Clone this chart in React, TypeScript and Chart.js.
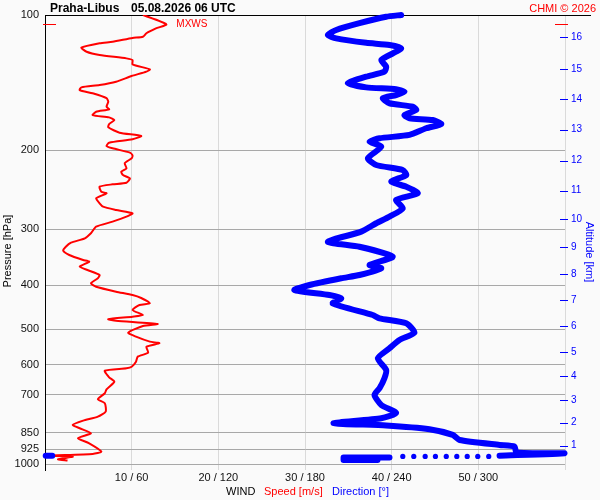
import React, { useEffect, useRef } from 'react';
import { Chart, registerables } from 'chart.js';

Chart.register(...registerables);

const FONT = 'Arial, "Liberation Sans", Helvetica, sans-serif';
const RED = '#ff0000';
const BLUE = '#0000ff';

// wind speed trace: pressure [hPa] from the top down to the surface
const speedPressure = [
  100, 104.9, 107.1, 109.8, 111.8, 112.5, 114.7, 115.6, 118.2, 120.7,
  122.7, 124.9, 126.0, 128.8, 132.1, 133.7, 136.7, 140.8, 143.2, 144.9,
  146.9, 149.4, 153.2, 156.0, 160.0, 162.2, 164.2, 167.0, 169.0, 171.3,
  174.9, 177.8, 182.8, 185.9, 189.1, 192.4, 195.7, 198.0, 202.5, 205.4,
  208.4, 213.8, 219.4, 223.3, 227.1, 231.0, 236.2, 238.2, 241.1, 247.4,
  249.4, 255.9, 262.5, 267.1, 271.6, 276.3, 281.1, 288.4, 295.9, 306.1,
  314.1, 321.2, 328.0, 334.7, 342.2, 351.1, 354.1, 363.3, 369.5, 379.1,
  385.5, 395.5, 402.5, 412.9, 420.1, 426.6, 438.3, 442.1, 453.6, 465.4,
  469.4, 475.7, 479.1, 487.3, 492.3, 509.5, 520.0, 533.5, 537.9, 547.4,
  564.5, 576.2, 591.1, 606.6, 611.5, 619.2, 640.4, 655.0, 681.0, 695.0,
  716.7, 731.6, 763.8, 783.6, 799.9, 817.6, 831.6, 853.1, 875.3, 898.1,
  937.6, 948.7, 957.0, 961.9, 974.8, 980.8,
];
// wind speed [m/s]
const speedValues = [
  11.3, 14.0, 12.8, 11.7, 11.3, 10.1, 7.8, 6.3, 4.2, 4.8,
  6.3, 9.4, 10.1, 10.1, 12.1, 11.7, 10.0, 8.2, 6.3, 4.2,
  4.0, 5.5, 7.1, 7.3, 7.1, 7.4, 5.9, 5.5, 7.4, 8.0,
  7.4, 7.3, 8.6, 11.1, 10.1, 7.4, 7.1, 7.8, 9.8, 10.1,
  10.0, 9.2, 9.4, 8.8, 9.0, 9.8, 9.4, 7.8, 6.3, 6.5,
  7.1, 5.9, 6.3, 6.7, 8.2, 10.1, 9.4, 7.8, 5.9, 5.3,
  4.6, 3.0, 2.4, 2.1, 2.8, 4.4, 5.1, 4.0, 4.9, 6.3,
  6.1, 5.3, 5.9, 8.2, 10.1, 11.1, 12.1, 10.9, 10.1, 11.3,
  10.1, 7.3, 8.2, 13.0, 11.3, 9.6, 10.5, 12.1, 13.2, 11.7,
  11.9, 10.7, 10.5, 10.0, 9.4, 6.9, 7.4, 8.0, 7.1, 6.9,
  6.1, 6.9, 7.0, 6.1, 4.4, 3.2, 4.0, 5.3, 3.8, 5.1,
  6.5, 5.5, 0.3, 3.2, 1.5, 2.6,
];

// wind direction trace: pressure [hPa]
const dirPressure = [
  100, 100.9, 104.3, 108.0, 110.8, 112.7, 115.3, 116.6, 118.6, 121.7,
  126.0, 130.3, 133.7, 137.2, 141.9, 144.9, 146.3, 148.2, 150.7, 153.2,
  157.2, 160.0, 162.7, 167.0, 169.8, 171.3, 174.9, 178.7, 184.9, 188.1,
  191.4, 196.4, 208.4, 215.7, 221.3, 227.1, 234.9, 241.1, 249.4, 258.1,
  269.3, 281.1, 290.8, 303.6, 319.7, 328.0, 345.1, 360.1, 366.3, 379.1,
  385.5, 399.0, 409.4, 420.1, 427.3, 438.3, 465.4, 473.3, 485.6, 509.5,
  528.9, 551.9, 581.1, 616.9, 643.7, 677.6, 701.2, 738.0, 768.9, 790.1,
  810.6, 819.7, 835.8, 860.6, 883.0, 905.8, 912.8, 941.2, 945.2, 957.4,
];
// wind direction [deg]
const dirValues = [
  246.6, 236.2, 217.7, 201.6, 195.8, 201.6, 222.4, 238.5, 246.6, 240.8,
  232.8, 236.2, 235.0, 222.4, 209.6, 222.4, 243.1, 248.9, 243.1, 233.9,
  238.5, 254.6, 257.0, 248.9, 252.3, 268.5, 274.3, 263.9, 252.3, 231.6,
  224.7, 232.8, 223.5, 229.3, 247.7, 250.1, 239.7, 250.1, 258.1, 243.1,
  247.7, 238.5, 229.3, 218.9, 195.8, 217.7, 240.8, 224.7, 232.8, 217.7,
  205.1, 183.1, 172.7, 196.9, 205.1, 199.2, 226.9, 231.6, 250.1, 255.8,
  245.4, 238.5, 230.4, 236.2, 235.0, 231.6, 228.1, 232.8, 243.1, 232.8,
  199.7, 236.2, 266.2, 282.3, 287.0, 314.7, 325.0, 326.4, 359.7, 314.7,
];

// sparse samples near the ground
const dirDotPressure = [961, 961, 961, 961, 961, 961, 961, 961, 961];
const dirDotValues = [247.7, 255.3, 263.2, 270.3, 277.8, 285.1, 292.3, 299.6, 307.2];
const dirGroundPressure = [965.8, 965.8, 978.2, 978.2];
const dirGroundValues = [238.5, 206.7, 206.7, 230.2];
const dirNorthPressure = [957.4, 957.4];
const dirNorthValues = [0.5, 5.0];

const pressureTicks = [100, 200, 300, 400, 500, 600, 700, 850, 925, 1000];
const speedTicks = [10, 20, 30, 40, 50];
const directionTicks = [60, 120, 180, 240, 300];
const altitudeKm = [1, 2, 3, 4, 5, 6, 7, 8, 9, 10, 11, 12, 13, 14, 15, 16];
const altitudePressure = [909, 808, 719, 636, 563, 493, 432, 378, 329, 285, 246, 211, 180, 154, 132, 112];

const toPoints = (xs: number[], ps: number[]) => xs.map((x, i) => ({ x, y: ps[i] }));

const overlay = {
  id: 'overlay',
  beforeDraw(chart: any) {
    const { ctx, width, height } = chart;
    ctx.save();
    ctx.fillStyle = '#fafafa';
    ctx.fillRect(0, 0, width, height);
    ctx.restore();
  },
  beforeDatasetsDraw(chart: any) {
    const { ctx, chartArea: a } = chart;
    ctx.save();
    ctx.strokeStyle = '#000';
    ctx.lineWidth = 1;
    ctx.beginPath();
    ctx.moveTo(a.left, a.top + 0.5);
    ctx.lineTo(591, a.top + 0.5);
    ctx.stroke();
    ctx.restore();
  },
  afterDraw(chart: any) {
    const { ctx, chartArea: a, scales } = chart;
    const seg = (x1: number, y1: number, x2: number, y2: number) => {
      ctx.beginPath();
      ctx.moveTo(x1, y1);
      ctx.lineTo(x2, y2);
      ctx.stroke();
    };
    ctx.save();

    // altitude tick marks across the right edge
    ctx.strokeStyle = BLUE;
    ctx.lineWidth = 1;
    altitudePressure.forEach((p) => {
      const py = Math.round(scales.alt.getPixelForValue(p)) + 0.5;
      seg(a.right - 5, py, a.right + 3, py);
    });

    // maximum wind marker
    let iMax = 0;
    speedValues.forEach((v, i) => {
      if (v > speedValues[iMax]) iMax = i;
    });
    const my = Math.round(scales.y.getPixelForValue(speedPressure[iMax])) + 0.5;
    ctx.strokeStyle = RED;
    seg(a.left - 2, my, a.left + 11, my);
    seg(a.right - 10, my, a.right + 3, my);
    ctx.fillStyle = RED;
    ctx.font = `10px ${FONT}`;
    ctx.textAlign = 'left';
    ctx.textBaseline = 'middle';
    ctx.fillText('MXWS', scales.x.getPixelForValue(speedValues[iMax]) + 10, my);

    // header
    ctx.textBaseline = 'alphabetic';
    ctx.fillStyle = '#000';
    ctx.font = `bold 12px ${FONT}`;
    ctx.fillText('Praha-Libus', 50, 12);
    ctx.fillText('05.08.2026 06 UTC', 131, 12);
    ctx.font = `11px ${FONT}`;
    ctx.fillStyle = RED;
    ctx.textAlign = 'right';
    ctx.fillText('CHMI © 2026', 596, 12);

    // bottom caption
    ctx.textAlign = 'left';
    ctx.fillStyle = '#000';
    ctx.fillText('WIND', 226, 495);
    ctx.fillStyle = RED;
    ctx.fillText('Speed [m/s]', 264, 495);
    ctx.fillStyle = BLUE;
    ctx.fillText('Direction [°]', 332, 495);

    // axis titles
    ctx.textAlign = 'center';
    ctx.textBaseline = 'middle';
    ctx.save();
    ctx.translate(8, 251);
    ctx.rotate(-Math.PI / 2);
    ctx.fillStyle = '#000';
    ctx.fillText('Pressure [hPa]', 0, 0);
    ctx.restore();
    ctx.save();
    ctx.translate(589, 252);
    ctx.rotate(Math.PI / 2);
    ctx.fillStyle = BLUE;
    ctx.fillText('Altitude [km]', 0, 0);
    ctx.restore();

    ctx.restore();
  },
};

const App: React.FC = () => {
  const canvasRef = useRef<HTMLCanvasElement | null>(null);

  useEffect(() => {
    if (!canvasRef.current) return;
    const ctx = canvasRef.current.getContext('2d');
    if (!ctx) return;

    const blueLine = {
      xAxisID: 'xDir',
      yAxisID: 'y',
      showLine: true,
      borderColor: BLUE,
      backgroundColor: BLUE,
      borderWidth: 6,
      borderJoinStyle: 'round',
      borderCapStyle: 'round',
      pointRadius: 0,
      clip: false,
    };

    const chart = new Chart(ctx, {
      type: 'scatter',
      data: {
        datasets: [
          { ...blueLine, data: toPoints(dirValues, dirPressure), tension: 0.2 },
          { ...blueLine, data: toPoints(dirGroundValues, dirGroundPressure), tension: 0 },
          { ...blueLine, data: toPoints(dirNorthValues, dirNorthPressure), tension: 0 },
          {
            xAxisID: 'xDir',
            yAxisID: 'y',
            showLine: false,
            data: toPoints(dirDotValues, dirDotPressure),
            pointRadius: 2.6,
            pointBorderWidth: 0,
            pointBackgroundColor: BLUE,
          },
          {
            xAxisID: 'x',
            yAxisID: 'y',
            showLine: true,
            data: toPoints(speedValues, speedPressure),
            borderColor: RED,
            borderWidth: 2,
            pointRadius: 0,
            tension: 0.2,
          },
        ] as any,
      },
      options: {
        responsive: false,
        animation: false,
        events: [],
        layout: { padding: { top: 15, left: 0, right: 0, bottom: 0 } },
        font: { family: FONT },
        plugins: {
          legend: { display: false },
          tooltip: { enabled: false },
        },
        scales: {
          x: {
            type: 'linear',
            position: 'bottom',
            min: 0,
            max: 60,
            afterBuildTicks: (axis: any) => {
              axis.ticks = [0, ...speedTicks, 60].map((value) => ({ value }));
            },
            afterFit: (axis: any) => {
              axis.height = 30;
            },
            grid: { color: '#dadada', drawTicks: false },
            border: { display: false },
            ticks: {
              autoSkip: false,
              maxRotation: 0,
              padding: 1,
              color: '#111',
              font: { family: FONT, size: 11 },
              callback: (v: any) => {
                const i = speedTicks.indexOf(Number(v));
                return i >= 0 ? `${speedTicks[i]} / ${directionTicks[i]}` : '';
              },
            },
          },
          xDir: {
            type: 'linear',
            display: false,
            min: 0,
            max: 360,
          },
          y: {
            type: 'logarithmic',
            position: 'left',
            reverse: true,
            min: 100,
            max: 1030,
            afterBuildTicks: (axis: any) => {
              axis.ticks = pressureTicks.map((value) => ({ value }));
            },
            afterFit: (axis: any) => {
              axis.width = 45;
            },
            grid: { color: '#a8a8a8', drawTicks: false },
            border: { color: '#000', width: 1 },
            ticks: {
              autoSkip: false,
              padding: 6,
              color: '#111',
              font: { family: FONT, size: 11 },
              callback: (v: any) => String(v),
            },
          },
          alt: {
            type: 'logarithmic',
            position: 'right',
            reverse: true,
            min: 100,
            max: 1030,
            afterBuildTicks: (axis: any) => {
              axis.ticks = altitudePressure.map((value) => ({ value }));
            },
            afterFit: (axis: any) => {
              axis.width = 35;
            },
            grid: { display: false, drawTicks: false },
            border: { display: false },
            ticks: {
              autoSkip: false,
              padding: 6,
              color: BLUE,
              font: { family: FONT, size: 10 },
              callback: (v: any) => {
                const i = altitudePressure.indexOf(Number(v));
                return i >= 0 ? String(altitudeKm[i]) : '';
              },
            },
          },
        },
      } as any,
      plugins: [overlay],
    });

    return () => {
      chart.destroy();
    };
  }, []);

  return (
    <div style={{ position: 'fixed', left: 0, top: 0, width: 600, height: 500, background: '#fafafa' }}>
      <canvas ref={canvasRef} width={600} height={500} style={{ display: 'block' }} />
    </div>
  );
};

export default App;
